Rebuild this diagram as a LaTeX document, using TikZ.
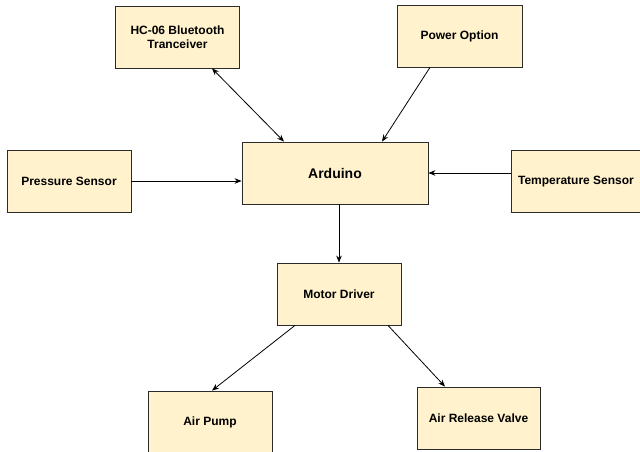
\documentclass[tikz,border=0pt]{standalone}
\usepackage{fontspec}
\setmainfont{Liberation Sans}
\usepackage{xcolor}
\usepackage{tikz}
\usetikzlibrary{arrows.meta, positioning, calc}
\definecolor{boxfill}{HTML}{FFF2CC}
\definecolor{boxline}{HTML}{2B2B2B}
\tikzset{
  box_default/.style={draw=boxline, fill=boxfill, line width=0.8pt, minimum width=124pt, minimum height=62pt, inner sep=2pt, align=center, font=\fontsize{12}{14}\selectfont\bfseries},
  box_main/.style={box_default, minimum width=186pt, font=\fontsize{14}{16}\selectfont\bfseries},
  link_default/.style={color=black, line width=0.8pt, -{Stealth[length=7pt, width=5.5pt]}},
  link_both/.style={link_default, {Stealth[length=7pt, width=5.5pt]}-{Stealth[length=7pt, width=5.5pt]}}
}

\begin{document}
\begin{tikzpicture}[x=1pt, y=1pt]
\useasboundingbox (0,0) rectangle (640,-452);
\node[box_default] (hc06_node) at (177.5,-37) {HC-06 Bluetooth\\Tranceiver};
\node[box_default, minimum width=125pt] (power_node) at (459.5,-36) {Power Option};
\node[box_main] (arduino_node) at (335,-173) {Arduino};
\node[box_default] (pressure_node) at (69,-181) {Pressure Sensor};
\node[box_default, minimum width=130pt] (temp_node) at (576,-181.5) {Temperature Sensor};
\node[box_default] (motor_node) at (339,-294) {Motor Driver};
\node[box_default] (pump_node) at (210,-422) {Air Pump};
\node[box_default, minimum width=123pt] (valve_node) at (478.5,-418) {Air Release Valve};
% links into the arduino
\draw[link_both] ($(hc06_node.south)+(34.5,0)$) -- ($(arduino_node.north)+(-51,0)$);
\draw[link_default] ($(power_node.south)+(-29.5,0)$) -- ($(arduino_node.north)+(47,0)$);
\draw[link_default] (pressure_node.east) -- (pressure_node.east -| arduino_node.west);
\draw[link_default] (arduino_node.east -| temp_node.west) -- (arduino_node.east);
% links out to the driver
\draw[link_default] (arduino_node.south -| motor_node.north) -- (motor_node.north);
\draw[link_default] ($(motor_node.south)+(-44,0)$) -- ($(pump_node.north)+(2,0)$);
\draw[link_default] ($(motor_node.south)+(49,0)$) -- ($(valve_node.north)+(-33.5,0)$);
\end{tikzpicture}
\end{document}
